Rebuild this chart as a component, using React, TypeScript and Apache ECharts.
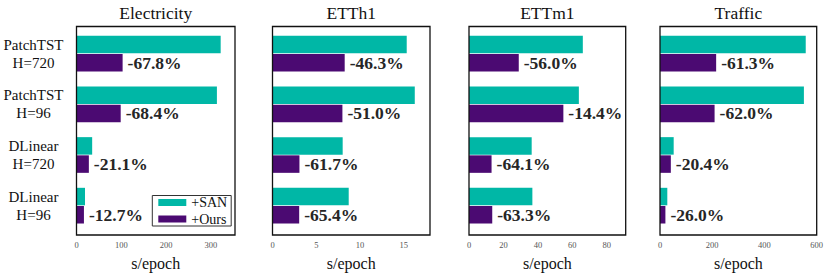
import React, { useEffect, useRef } from "react";
import * as echarts from "echarts";

const categories = ["PatchTST\nH=720", "PatchTST\nH=96", "DLinear\nH=720", "DLinear\nH=96"];
const panelTitles = ["Electricity", "ETTh1", "ETTm1", "Traffic"];
const seriesNames = ["+SAN", "+Ours"];

const sanElectricity = [322, 313.6, 35, 19];
const oursElectricity = [103, 98.7, 27.6, 16.6];
const sanETTh1 = [15.34, 16.26, 8.02, 8.71];
const oursETTh1 = [8.25, 7.99, 3.08, 3.05];
const sanETTm1 = [66.1, 63.8, 36.4, 36.8];
const oursETTm1 = [28.9, 54.8, 13.1, 13.5];
const sanTraffic = [558, 551, 52.4, 28];
const oursTraffic = [215, 209, 41.5, 20.7];

const labelsElectricity = ["-67.8%", "-68.4%", "-21.1%", "-12.7%"];
const labelsETTh1 = ["-46.3%", "-51.0%", "-61.7%", "-65.4%"];
const labelsETTm1 = ["-56.0%", "-14.4%", "-64.1%", "-63.3%"];
const labelsTraffic = ["-61.3%", "-62.0%", "-20.4%", "-26.0%"];

const axisMax = [354, 18, 91, 600];
const axisInterval = [100, 5, 20, 200];

const SAN_COLOR = "#00b7a6";
const OURS_COLOR = "#4b0a72";
const FONT = "Liberation Serif";

export default function App() {
  const ref = useRef<HTMLDivElement>(null);
  useEffect(() => {
    if (!ref.current) return;
    const chart = echarts.init(ref.current, undefined, { renderer: "svg" });
    const san = [sanElectricity, sanETTh1, sanETTm1, sanTraffic];
    const ours = [oursElectricity, oursETTh1, oursETTm1, oursTraffic];
    const labels = [labelsElectricity, labelsETTh1, labelsETTm1, labelsTraffic];

    const lefts = [76.5, 272.5, 469, 660];
    const widths = [158.5, 157.5, 156.7, 156.7];
    const gridTop = 28.3;
    const gridHeight = 205.6;
    const boxTop = 26.5;
    const boxBottom = 235;

    const grids = lefts.map((l, i) => ({
      left: l,
      top: gridTop,
      width: widths[i],
      height: gridHeight,
      containLabel: false,
    }));

    const xAxes = lefts.map((_, i) => ({
      type: "value",
      gridIndex: i,
      min: 0,
      max: axisMax[i],
      interval: axisInterval[i],
      axisLine: { show: false },
      axisTick: { show: false },
      splitLine: { show: false },
      axisLabel: {
        fontFamily: FONT,
        fontSize: 8.5,
        color: "#555",
        margin: 9,
        showMaxLabel: i === 3,
      },
      name: "s/epoch",
      nameLocation: "middle",
      nameGap: 24,
      nameTextStyle: { fontFamily: FONT, fontSize: 16, color: "#111" },
    }));

    const yAxes = lefts.map((_, i) => ({
      type: "category",
      gridIndex: i,
      data: categories,
      inverse: true,
      axisLine: { show: false },
      axisTick: { show: false },
      axisLabel: {
        show: i === 0,
        fontFamily: FONT,
        fontSize: 15,
        lineHeight: 18,
        color: "#111",
        align: "center",
        margin: 43,
        padding: [6, 0, 0, 0],
      },
    }));

    const series: any[] = [];
    for (let i = 0; i < 4; i++) {
      series.push({
        name: seriesNames[0],
        type: "bar",
        xAxisIndex: i,
        yAxisIndex: i,
        data: san[i],
        barWidth: 17.5,
        barGap: "4%",
        itemStyle: { color: SAN_COLOR },
      });
      const lab = labels[i];
      series.push({
        name: seriesNames[1],
        type: "bar",
        xAxisIndex: i,
        yAxisIndex: i,
        data: ours[i],
        barWidth: 17.5,
        barGap: "4%",
        itemStyle: { color: OURS_COLOR },
        label: {
          show: true,
          position: "right",
          distance: 5,
          formatter: (p: any) => lab[p.dataIndex],
          fontFamily: FONT,
          fontSize: 17.5,
          fontWeight: "bold",
          color: "#262626",
        },
      });
    }

    const titles = lefts.map((l, i) => ({
      text: panelTitles[i],
      left: l + widths[i] / 2,
      top: 3.5,
      textAlign: "center",
      padding: 0,
      textStyle: { fontFamily: FONT, fontSize: 17.5, fontWeight: "normal", color: "#111" },
    }));

    const boxes = lefts.map((l, i) => ({
      type: "rect",
      shape: { x: l, y: boxTop, width: widths[i], height: boxBottom - boxTop },
      style: { fill: "none", stroke: "#111", lineWidth: 1.3 },
      z: 100,
      silent: true,
    }));

    chart.setOption({
      animation: false,
      backgroundColor: "#fff",
      textStyle: { fontFamily: FONT },
      title: titles,
      grid: grids,
      xAxis: xAxes,
      yAxis: yAxes,
      legend: {
        data: seriesNames,
        orient: "vertical",
        left: 152.3,
        top: 195.5,
        padding: [0, 4, 0, 6],
        itemGap: 2.5,
        itemWidth: 28,
        itemHeight: 7,
        icon: "rect",
        borderColor: "#333",
        borderWidth: 1,
        backgroundColor: "#fff",
        textStyle: { fontFamily: FONT, fontSize: 14, color: "#111" },
        z: 50,
      },
      series,
      graphic: boxes,
    });
    return () => chart.dispose();
  }, []);
  return (
    <div
      ref={ref}
      style={{ position: "absolute", left: 0, top: 0, width: 831, height: 276 }}
    />
  );
}
